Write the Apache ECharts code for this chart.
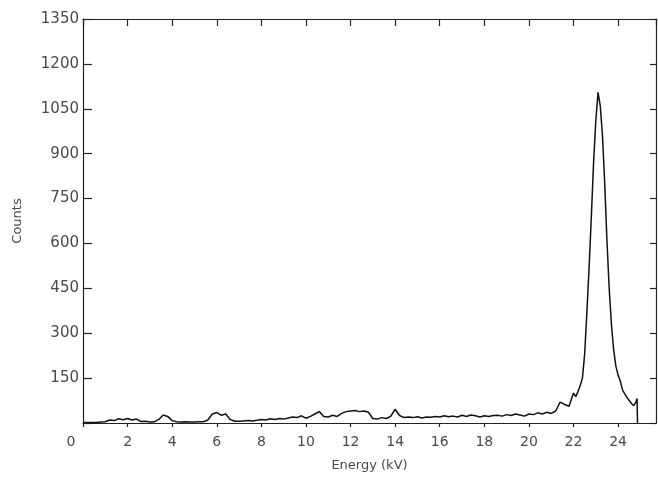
<!DOCTYPE html>
<html>
<head>
<meta charset="utf-8">
<script src="https://cdn.jsdelivr.net/npm/echarts@6/dist/echarts.min.js"></script>
<style>
  html, body { margin: 0; padding: 0; background: #fff; }
  #chart { width: 658px; height: 477px; }
</style>
</head>
<body>
<div id="chart"></div>
<script>
// energy (kV) and counts
const energy = [
  0.0, 0.2, 0.4, 0.6, 0.8, 1.0, 1.2, 1.4, 1.6, 1.8,
  2.0, 2.2, 2.4, 2.6, 2.8, 3.0, 3.2, 3.4, 3.6, 3.8,
  4.0, 4.2, 4.4, 4.6, 4.8, 5.0, 5.2, 5.4, 5.6, 5.8,
  6.0, 6.2, 6.4, 6.6, 6.8, 7.0, 7.2, 7.4, 7.6, 7.8,
  8.0, 8.2, 8.4, 8.6, 8.8, 9.0, 9.2, 9.4, 9.6, 9.8,
  10.0, 10.2, 10.4, 10.6, 10.8, 11.0, 11.2, 11.4, 11.6, 11.8,
  12.0, 12.2, 12.4, 12.6, 12.8, 13.0, 13.2, 13.4, 13.6, 13.8,
  14.0, 14.2, 14.4, 14.6, 14.8, 15.0, 15.2, 15.4, 15.6, 15.8,
  16.0, 16.2, 16.4, 16.6, 16.8, 17.0, 17.2, 17.4, 17.6, 17.8,
  18.0, 18.2, 18.4, 18.6, 18.8, 19.0, 19.2, 19.4, 19.6, 19.8,
  20.0, 20.2, 20.4, 20.6, 20.8, 21.0, 21.2, 21.4, 21.6, 21.8,
  22.0, 22.1, 22.2, 22.3, 22.4, 22.5, 22.6, 22.7, 22.8, 22.9,
  23.0, 23.1, 23.2, 23.3, 23.4, 23.5, 23.6, 23.7, 23.8, 23.9,
  24.0, 24.1, 24.2, 24.4, 24.6, 24.7, 24.8, 24.85, 24.87
];
const counts = [
  2, 2, 2, 2, 3, 4, 10, 8, 14, 11,
  15, 10, 13, 5, 6, 3, 4, 12, 27, 22,
  8, 4, 3, 4, 3, 3, 4, 4, 10, 30,
  35, 26, 30, 12, 6, 6, 7, 8, 7, 9,
  12, 10, 14, 12, 15, 13, 17, 20, 18, 24,
  16, 22, 30, 38, 22, 20, 26, 22, 32, 38,
  40, 42, 38, 40, 36, 15, 13, 18, 15, 22,
  46, 25, 18, 20, 18, 21, 17, 20, 19, 22,
  20, 24, 21, 23, 20, 26, 22, 27, 24, 20,
  24, 22, 25, 26, 23, 28, 25, 30, 27, 23,
  30, 28, 34, 30, 36, 32, 40, 70, 62, 56,
  100, 88, 105, 125, 150, 230, 370, 520, 690, 870,
  1010, 1105, 1060, 960, 800, 610, 450, 330, 245, 190,
  160, 140, 110, 85, 65, 58, 70, 82, 0
];
const xTicks = [0, 2, 4, 6, 8, 10, 12, 14, 16, 18, 20, 22, 24];
const yTicks = [0, 150, 300, 450, 600, 750, 900, 1050, 1200, 1350];

const chart = echarts.init(document.getElementById('chart'));
const txt = '#4a4a4a';
const ink = '#222';
const font = 'DejaVu Sans';

const option = {
  backgroundColor: '#fff',
  animation: false,
  grid: { left: 83, right: 2, top: 19, bottom: 51 },
  xAxis: [
    {
      type: 'value', min: 0, max: 25.7, interval: 2,
      name: 'Energy (kV)', nameLocation: 'middle', nameGap: 36,
      nameTextStyle: { color: txt, fontFamily: font, fontSize: 13 },
      axisLine: { onZero: false, lineStyle: { color: ink, width: 1.2 } },
      axisTick: { show: true, inside: false, length: 4, lineStyle: { color: ink, width: 1.2 } },
      splitLine: { show: false },
      axisLabel: {
        color: txt, fontFamily: font, fontSize: 14, margin: 12,
        showMaxLabel: false,
        formatter: v => xTicks.includes(v) ? (v === 0 ? '{z|0}' : String(v)) : '',
        rich: { z: { color: txt, fontFamily: font, fontSize: 14, padding: [0, 24, 0, 0] } }
      }
    },
    {
      type: 'value', position: 'top', min: 0, max: 25.7, interval: 2,
      axisLine: { onZero: false, lineStyle: { color: ink, width: 1.2 } },
      axisTick: { show: true, inside: true, length: 7, lineStyle: { color: ink, width: 1.2 } },
      axisLabel: { show: false },
      splitLine: { show: false }
    }
  ],
  yAxis: [
    {
      type: 'value', min: 0, max: 1350, interval: 150,
      name: 'Counts', nameLocation: 'middle', nameGap: 59,
      nameTextStyle: { color: txt, fontFamily: font, fontSize: 13 },
      axisLine: { show: true, onZero: false, lineStyle: { color: ink, width: 1.2 } },
      axisTick: { show: true, inside: true, length: 9, lineStyle: { color: ink, width: 1.2 } },
      splitLine: { show: false },
      axisLabel: {
        color: txt, fontFamily: font, fontSize: 15, margin: 4,
        formatter: v => (v === 0 || !yTicks.includes(v)) ? '' : String(v)
      }
    },
    {
      type: 'value', position: 'right', min: 0, max: 1350, interval: 150,
      axisLine: { show: true, onZero: false, lineStyle: { color: ink, width: 1.2 } },
      axisTick: { show: true, inside: true, length: 6, lineStyle: { color: ink, width: 1.2 } },
      axisLabel: { show: false },
      splitLine: { show: false }
    }
  ],
  series: [
    {
      type: 'line',
      data: energy.map((e, i) => [e, counts[i]]),
      showSymbol: false,
      lineStyle: { color: '#111', width: 1.5 },
      silent: true
    }
  ]
};

chart.setOption(option);
</script>
</body>
</html>
